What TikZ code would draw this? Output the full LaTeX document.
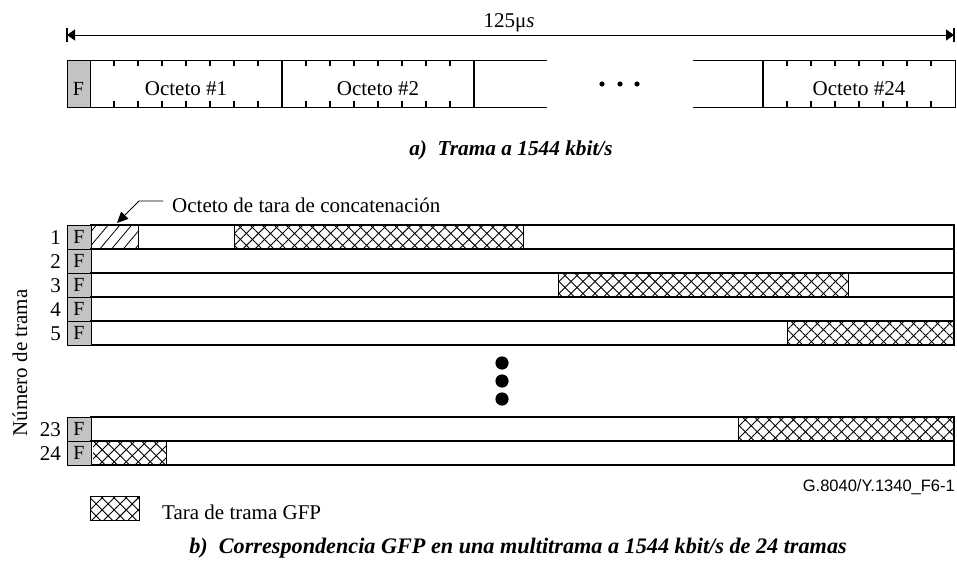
\documentclass[tikz,border=0pt]{standalone}
\usepackage{fontspec}
\setmainfont{Liberation Serif}
\setsansfont{Liberation Sans}
\usetikzlibrary{patterns.meta,arrows.meta}
\definecolor{fgray}{RGB}{195,195,195}
\begin{document}
\begin{tikzpicture}[x=1pt,y=-1pt,
  txt/.style={font=\fontsize{21}{24}\selectfont, inner sep=0pt},
  captxt/.style={font=\bfseries\itshape, inner sep=0pt},
  fcell/.style={fill=fgray, draw=black, line width=0.8pt, minimum width=24pt, minimum height=24pt, inner sep=0pt, font=\fontsize{20}{24}\selectfont},
  ftop/.style={fill=fgray, draw=black, line width=0.8pt, minimum width=23pt, minimum height=47pt, inner sep=0pt},
  rowbox/.style={draw=black, line width=1.1pt},
  frameline/.style={draw=black, line width=0.9pt},
  xhatch/.style={pattern={Lines[angle=45,distance=8.5pt,line width=0.9pt]},
                 postaction={pattern={Lines[angle=-45,distance=8.5pt,line width=0.9pt]}}},
  shatch/.style={pattern={Lines[angle=50,distance=9pt,line width=0.8pt]}},
  dimtip/.style={line width=0.9pt,{Triangle[length=8pt,width=11pt]}-{Triangle[length=8pt,width=11pt]}},
  barline/.style={line width=2.6pt}
]
\useasboundingbox (0,0) rectangle (957,564);

% ---------- a) ----------
\coordinate (tl) at (67,35);
\coordinate (tr) at (954,35);
\draw[dimtip] (tl) -- (tr);
\draw[barline] ([yshift=-7pt]tl) -- ([yshift=7pt]tl);
\draw[barline] ([yshift=-7pt]tr) -- ([yshift=7pt]tr);
\node[txt, anchor=base] (dur) at (509,28) {125μ\textit{s}};

\node[ftop] (ftopF) at (78.5,83.5) {};
\node[font=\fontsize{20}{24}\selectfont, inner sep=0pt, anchor=base] (ftopL) at (78.5,96) {F};
\draw[frameline] (90,60) -- (547,60);
\draw[frameline] (90,107) -- (547,107);
\draw[frameline] (693,60) -- (955,60) -- (955,107) -- (693,107);
\draw[line width=1.2pt] (282,60) -- (282,107);
\draw[line width=1.2pt] (474,60) -- (474,107);
\draw[line width=1.2pt] (763,60) -- (763,107);
\foreach \s in {90,282,763}{
  \foreach \k in {1,...,7}{
    \draw[line width=1.1pt] (\s+24*\k,60) -- (\s+24*\k,66);
    \draw[line width=1.1pt] (\s+24*\k,107) -- (\s+24*\k,101);
  }
}
\node[txt, anchor=base] (o1) at (186,96) {Octeto \#1};
\node[txt, anchor=base] (o2) at (378,96) {Octeto \#2};
\node[txt, anchor=base] (o24) at (859,96) {Octeto \#24};
\foreach \x in {602,620,637} \fill (\x,84) circle (2.6pt);

\node[captxt, font=\fontsize{21.3}{24}\selectfont\bfseries\itshape, anchor=base] (capa) at (511,156) {a)\ \ Trama a 1544 kbit/s};

% ---------- b) ----------
\node[txt, anchor=base west] (ann) at (172,212) {Octeto de tara de concatenación};
\coordinate (a1) at (163,201);
\coordinate (a2) at (139,201);
\coordinate (a3) at (117,223);
\draw[line width=0.9pt, -{Triangle[length=11pt,width=10pt]}] (a1) -- (a2) -- (a3);

% hatched / cross-hatched parts
\path[shatch] (91,225) rectangle (138,249);
\path[xhatch] (234,225) rectangle (523,249);
\path[xhatch] (558,273) rectangle (848,297);
\path[xhatch] (787,321) rectangle (954,345);
\path[xhatch] (738,417) rectangle (954,441);
\path[xhatch] (93,441) rectangle (166,465);
\draw[line width=0.9pt] (138,225) -- (138,249);
\draw[line width=0.9pt] (234,225) -- (234,249);
\draw[line width=0.9pt] (523,225) -- (523,249);
\draw[line width=0.9pt] (558,273) -- (558,297);
\draw[line width=0.9pt] (848,273) -- (848,297);
\draw[line width=0.9pt] (787,321) -- (787,345);
\draw[line width=0.9pt] (738,417) -- (738,441);
\draw[line width=0.9pt] (166,441) -- (166,465);

\foreach \t/\n in {225/1,249/2,273/3,297/4,321/5,417/23,441/24}{
  \draw[rowbox] (91,\t) rectangle (954,\t+24);
  \node[fcell] (F\n) at (79,\t+12) {F};
  \node[txt, anchor=base east] (n\n) at (61,\t+19.5) {\n};
}

\foreach \y in {363,381,399} \fill (502,\y) circle (6.6pt);

\node[txt, rotate=90] (ylab) at (20,363) {Número de trama};

\node[font=\sffamily\fontsize{16.5}{18}\selectfont, anchor=east, inner sep=0pt] (id) at (955,487) {G.8040/Y.1340\_F6-1};

\path[xhatch] (90,496) rectangle (139,520);
\draw[line width=0.9pt] (90,496) rectangle (139,520);
\node[txt, anchor=base west] (leg) at (162,519) {Tara de trama GFP};

\node[captxt, font=\fontsize{22.2}{26}\selectfont\bfseries\itshape, anchor=base] (capb) at (518,553) {b)\ \ Correspondencia GFP en una multitrama a 1544 kbit/s de 24 tramas};
\end{tikzpicture}
\end{document}
